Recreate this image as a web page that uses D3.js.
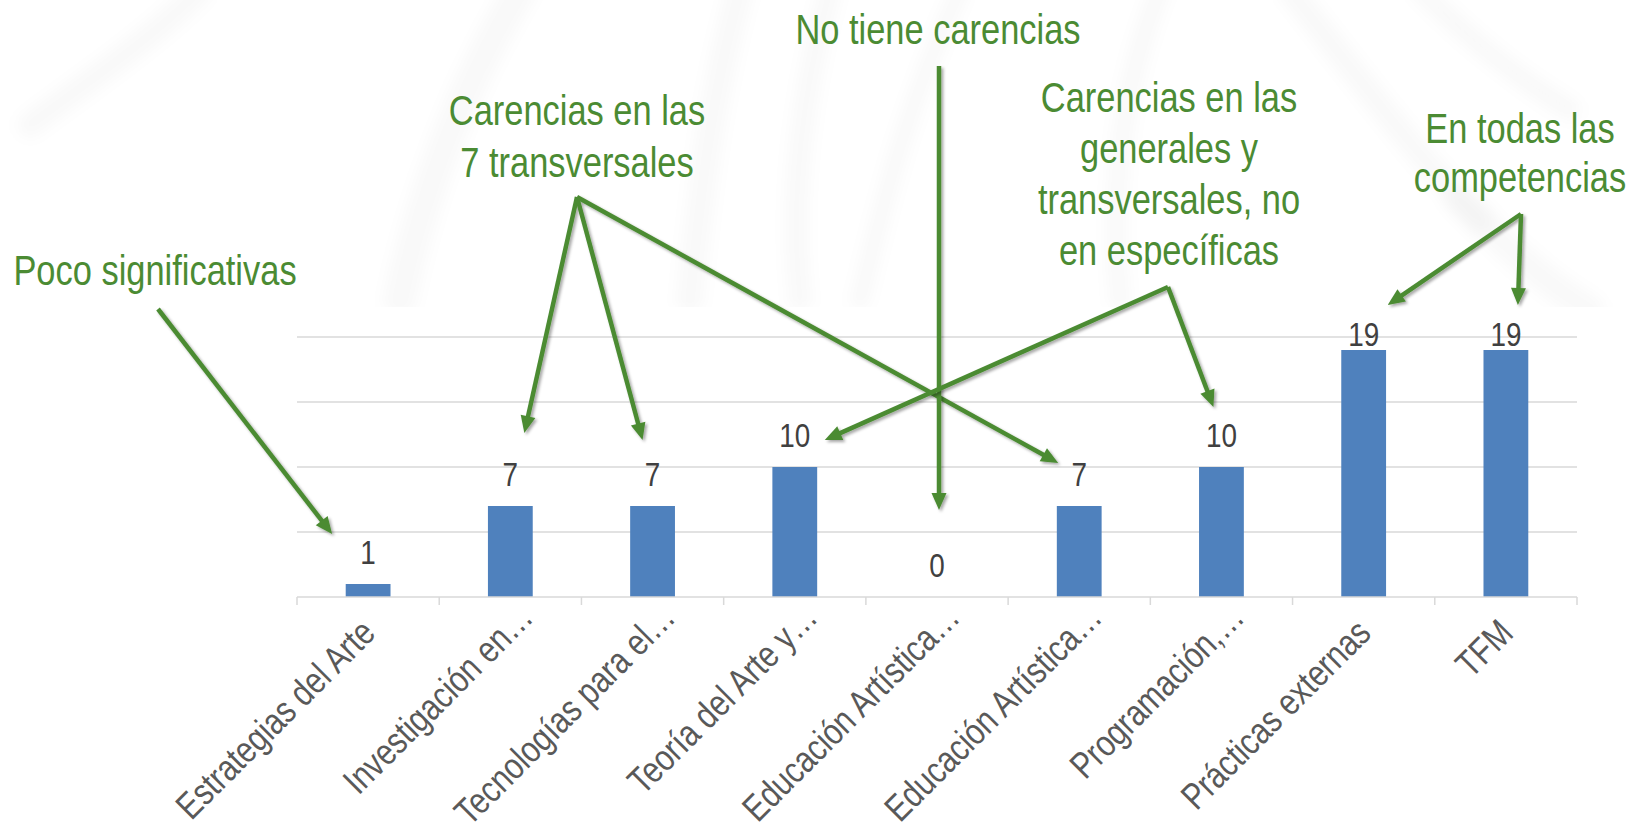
<!DOCTYPE html>
<html>
<head>
<meta charset="utf-8">
<script src="https://cdn.jsdelivr.net/npm/d3@7"></script>
<style>
  html, body { margin: 0; padding: 0; background: #fff; }
  svg { display: block; }
  text { font-family: "Liberation Sans", Arial, sans-serif; }
</style>
</head>
<body>
<script>
// data
var categories = ["Estrategias del Arte", "Investigación en…", "Tecnologías para el…", "Teoría del Arte y…",
  "Educación Artística…", "Educación Artística…", "Programación,…", "Prácticas externas", "TFM"];
var values = [1, 7, 7, 10, 0, 7, 10, 19, 19];
var yTicks = [5, 10, 15, 20];

// annotations: text lines and which bars their arrows point at
var noteTexts = [
  ["Poco significativas"],
  ["Carencias en las", "7 transversales"],
  ["No tiene carencias"],
  ["Carencias en las", "generales y", "transversales, no", "en específicas"],
  ["En todas las", "competencias"]
];
var noteTargets = [[0], [1, 2, 5], [4], [3, 6], [7, 8]];

var W = 1633, H = 830;
var green = "#4b8b33";
var narrow = 0.82; // Arial Narrow look, squeezed Liberation Sans

var svg = d3.select("body").append("svg").attr("width", W).attr("height", H);

var defs = svg.append("defs");
defs.append("filter").attr("id", "blur").append("feGaussianBlur").attr("stdDeviation", 7);
var sh = defs.append("filter").attr("id", "shadow").attr("x", "-20%").attr("y", "-20%").attr("width", "140%").attr("height", "140%");
sh.append("feDropShadow").attr("dx", 2).attr("dy", 2).attr("stdDeviation", 1.5).attr("flood-color", "#000").attr("flood-opacity", 0.35);

// faint watermark behind the top area
var wm = svg.append("g").attr("filter", "url(#blur)").attr("fill", "none").attr("stroke", "#000").attr("stroke-opacity", 0.025).attr("stroke-linecap", "round");
var wmPaths = [
  ["M30,125 C90,80 150,40 200,-10", 26],
  ["M400,300 C420,200 460,90 520,-10", 34],
  ["M690,300 C700,200 710,100 740,-10", 28],
  ["M800,300 C790,200 800,100 830,-10", 24],
  ["M860,300 C880,220 900,120 960,-10", 20],
  ["M1120,300 C1110,200 1120,90 1160,-10", 22],
  ["M1290,-10 C1360,80 1420,160 1480,220", 26],
  ["M1460,200 C1500,240 1540,280 1590,310", 30],
  ["M1420,-10 C1470,40 1520,80 1570,110", 22]
];
wm.selectAll("path").data(wmPaths).enter().append("path")
  .attr("d", function(d){ return d[0]; })
  .attr("stroke-width", function(d){ return d[1]; });
svg.append("rect").attr("x", 0).attr("y", 307).attr("width", W).attr("height", H - 307).attr("fill", "#fff");

// scales
var x = d3.scaleBand()
  .domain(d3.range(categories.length))
  .range([297, 1577])
  .paddingInner(0.685)
  .paddingOuter(0.3425);
var band = d3.scaleBand().domain(d3.range(categories.length)).range([297, 1577]);
var y = d3.scaleLinear().domain([0, 20]).range([597, 337]);

// gridlines
svg.append("g").selectAll("line")
  .data(yTicks)
  .enter().append("line")
    .attr("x1", 297).attr("x2", 1577)
    .attr("y1", function(d){ return y(d); })
    .attr("y2", function(d){ return y(d); })
    .attr("stroke", "#d9d9d9").attr("stroke-width", 1.5);

// bars
svg.append("g").selectAll("rect")
  .data(values)
  .enter().append("rect")
    .attr("x", function(d, i){ return x(i); })
    .attr("y", function(d){ return y(d); })
    .attr("width", x.bandwidth())
    .attr("height", function(d){ return y(0) - y(d); })
    .attr("fill", "#4f81bd");

// x axis: baseline + ticks at band edges
var tickPos = d3.range(categories.length + 1).map(function(i){ return 297 + i * band.bandwidth(); });
svg.append("line").attr("x1", 297).attr("x2", 1577).attr("y1", y(0)).attr("y2", y(0))
  .attr("stroke", "#d9d9d9").attr("stroke-width", 1.5);
svg.append("g").selectAll("line")
  .data(tickPos)
  .enter().append("line")
    .attr("x1", function(d){ return d; }).attr("x2", function(d){ return d; })
    .attr("y1", y(0)).attr("y2", y(0) + 8)
    .attr("stroke", "#d9d9d9").attr("stroke-width", 1.5);

function cx(i){ return x(i) + x.bandwidth() / 2; }

// category labels, truncated ones sit a bit further along
svg.append("g").selectAll("text")
  .data(categories)
  .enter().append("text")
    .attr("transform", function(d, i){
      var shift = d.slice(-1) == "…" ? 22 : 0;
      return "translate(" + cx(i) + "," + (y(0) + 29) + ") rotate(-45) translate(" + shift + ",0) scale(" + narrow + ",1)";
    })
    .attr("text-anchor", "end")
    .attr("dy", "0.35em")
    .attr("font-size", 37)
    .attr("fill", "#595959")
    .text(function(d){ return d; });

// value labels
function labelBase(i){ return Math.max(y(values[i]) - 20, y(20) + 9); }
svg.append("g").selectAll("text")
  .data(values)
  .enter().append("text")
    .attr("transform", function(d, i){ return "translate(" + cx(i) + "," + labelBase(i) + ") scale(" + narrow + ",1)"; })
    .attr("text-anchor", "middle")
    .attr("font-size", 34)
    .attr("fill", "#404040")
    .text(function(d){ return d; });

// annotation layout (text placement, arrow origin, offsets of arrow tips from each value label top)
var noteLayout = [
  {x: 155, y: 285, lh: 0, ox: 158, oy: 309, offs: [[-36, -6]]},
  {x: 577, y: 125, lh: 52, ox: 577, oy: 197, offs: [[14, -29], [-10, -22], [-21, 1]]},
  {x: 938, y: 44, lh: 0, ox: 939, oy: 66, offs: [[2, -43]]},
  {x: 1169, y: 112, lh: 51, ox: 1168, oy: 287, offs: [[30, 17], [-8, -16]]},
  {x: 1520, y: 143, lh: 49, ox: 1521, oy: 214, offs: [[24, -17], [12, -17]]}
];

var notes = svg.append("g");
noteTexts.forEach(function(lines, n){
  var L = noteLayout[n];
  var t = notes.append("text")
    .attr("transform", "translate(" + L.x + "," + L.y + ") scale(" + narrow + ",1)")
    .attr("text-anchor", "middle")
    .attr("font-size", 42)
    .attr("fill", green);
  t.selectAll("tspan").data(lines).enter().append("tspan")
    .attr("x", 0)
    .attr("y", function(d, k){ return k * L.lh; })
    .text(function(d){ return d; });

  var arrows = notes.append("g").attr("filter", "url(#shadow)");
  noteTargets[n].forEach(function(i, k){
    var tx = cx(i) + L.offs[k][0];
    var ty = labelBase(i) - 24 + L.offs[k][1];
    var dx = tx - L.ox, dy = ty - L.oy;
    var len = Math.sqrt(dx * dx + dy * dy);
    var ux = dx / len, uy = dy / len;
    var hl = 17, hw = 7.5;
    arrows.append("line")
      .attr("x1", L.ox).attr("y1", L.oy)
      .attr("x2", tx - ux * (hl - 2)).attr("y2", ty - uy * (hl - 2))
      .attr("stroke", green).attr("stroke-width", 4.5);
    var bx = tx - ux * hl, by = ty - uy * hl;
    arrows.append("path")
      .attr("d", "M" + tx + "," + ty +
        "L" + (bx - uy * hw) + "," + (by + ux * hw) +
        "L" + (bx + uy * hw) + "," + (by - ux * hw) + "Z")
      .attr("fill", green);
  });
});
</script>
</body>
</html>
